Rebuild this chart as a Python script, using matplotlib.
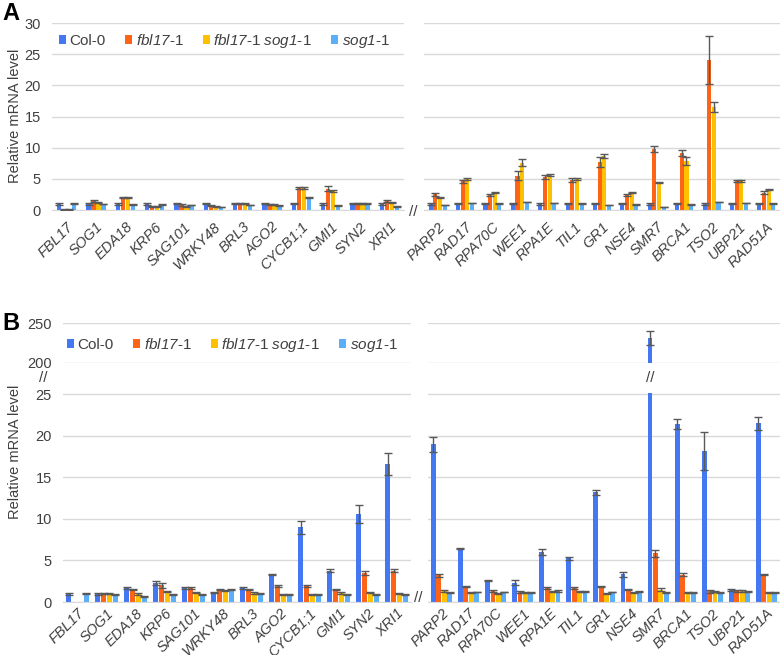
import matplotlib
matplotlib.use('Agg')
import matplotlib.pyplot as plt
import numpy as np

plt.rcParams['font.family'] = 'Liberation Sans'
plt.rcParams['mathtext.fontset'] = 'custom'
plt.rcParams['mathtext.rm'] = 'Liberation Sans'
plt.rcParams['mathtext.sf'] = 'Liberation Sans:italic'

genes_left = ['FBL17', 'SOG1', 'EDA18', 'KRP6', 'SAG101', 'WRKY48', 'BRL3', 'AGO2',
              'CYCB1;1', 'GMI1', 'SYN2', 'XRI1']
genes_right = ['PARP2', 'RAD17', 'RPA70C', 'WEE1', 'RPA1E', 'TIL1', 'GR1', 'NSE4',
               'SMR7', 'BRCA1', 'TSO2', 'UBP21', 'RAD51A']
labels = ['Col-0', r'$\mathsf{fbl17}$-1', r'$\mathsf{fbl17}$-1 $\mathsf{sog1}$-1', r'$\mathsf{sog1}$-1']
colors = ['#4477F2', '#FF6316', '#FFC000', '#5BAEF8']

# panel A (left 12 genes, then right 13 genes)
a_col0 = [1.0, 1.0, 1.0, 1.0, 1.0, 1.0, 1.0, 1.0, 1.0, 1.0, 1.0, 1.0,
          1.0, 1.0, 1.0, 1.0, 1.0, 1.0, 1.0, 1.0, 1.0, 1.0, 1.0, 1.0, 1.0]
a_fbl17 = [0.05, 1.45, 2.0, 0.6, 0.8, 0.7, 1.05, 0.9, 3.6, 3.4, 1.1, 1.45,
           2.5, 4.6, 2.4, 5.5, 5.3, 4.8, 7.7, 2.4, 9.8, 9.1, 24.1, 4.7, 2.8]
a_double = [0.05, 1.2, 2.0, 0.55, 0.6, 0.6, 1.05, 0.9, 3.6, 3.05, 1.1, 1.2,
            2.0, 5.0, 2.8, 7.6, 5.6, 5.0, 8.7, 2.8, 4.4, 7.9, 16.5, 4.7, 3.3]
a_sog1 = [1.0, 0.95, 0.9, 0.9, 0.8, 0.5, 0.8, 0.7, 2.0, 0.7, 1.05, 0.55,
          0.8, 1.1, 1.0, 1.3, 1.1, 1.0, 0.8, 0.9, 0.5, 0.9, 1.3, 1.1, 1.0]
a_col0_err = [0.15, 0.15, 0.15, 0.15, 0.1, 0.1, 0.1, 0.1, 0.1, 0.15, 0.1, 0.2,
              0.15, 0.1, 0.1, 0.1, 0.15, 0.1, 0.1, 0.1, 0.15, 0.1, 0.15, 0.1, 0.1]
a_fbl17_err = [0.05, 0.1, 0.1, 0.1, 0.1, 0.1, 0.1, 0.05, 0.15, 0.4, 0.1, 0.15,
               0.2, 0.2, 0.1, 0.7, 0.3, 0.3, 0.8, 0.1, 0.5, 0.5, 3.8, 0.15, 0.2]
a_double_err = [0.05, 0.1, 0.1, 0.1, 0.1, 0.05, 0.1, 0.05, 0.15, 0.1, 0.1, 0.1,
                0.1, 0.2, 0.1, 0.6, 0.2, 0.2, 0.3, 0.15, 0.05, 0.6, 0.8, 0.15, 0.15]
a_sog1_err = [0.05, 0.05, 0.05, 0.05, 0.05, 0.05, 0.05, 0.05, 0.1, 0.05, 0.05, 0.05,
              0.05, 0.05, 0.05, 0.05, 0.05, 0.05, 0.05, 0.05, 0.05, 0.05, 0.05, 0.05, 0.05]

# panel B
b_col0 = [1.0, 1.0, 1.7, 2.3, 1.7, 1.15, 1.7, 3.3, 9.0, 3.75, 10.6, 16.6,
          19.0, 6.4, 2.6, 2.3, 6.0, 5.25, 13.2, 3.35, 231.0, 21.4, 18.2, 1.45, 21.5]
b_fbl17 = [np.nan, 1.0, 1.5, 2.0, 1.65, 1.5, 1.5, 1.95, 1.9, 1.5, 3.5, 3.75,
           3.2, 1.85, 1.35, 1.2, 1.65, 1.7, 1.85, 1.5, 5.85, 3.3, 1.3, 1.3, 3.3]
b_double = [np.nan, 1.0, 0.95, 1.25, 1.15, 1.4, 1.1, 0.95, 0.9, 1.05, 1.15, 1.0,
            1.3, 1.15, 1.05, 1.15, 1.25, 1.25, 1.05, 1.15, 1.5, 1.1, 1.25, 1.3, 1.1]
b_sog1 = [1.0, 0.95, 0.7, 0.9, 0.9, 1.5, 1.05, 0.95, 0.9, 0.95, 0.9, 0.9,
          1.15, 1.2, 1.2, 1.15, 1.35, 1.3, 1.2, 1.25, 1.15, 1.1, 1.15, 1.3, 1.1]
b_col0_err = [0.1, 0.1, 0.1, 0.2, 0.1, 0.1, 0.1, 0.1, 0.8, 0.2, 1.1, 1.3,
              0.9, 0.05, 0.1, 0.3, 0.4, 0.2, 0.3, 0.3, 9.0, 0.6, 2.3, 0.1, 0.8]
b_fbl17_err = [np.nan, 0.05, 0.1, 0.3, 0.1, 0.1, 0.1, 0.1, 0.1, 0.1, 0.2, 0.2,
               0.2, 0.1, 0.1, 0.1, 0.1, 0.1, 0.1, 0.1, 0.4, 0.2, 0.2, 0.1, 0.05]
b_double_err = [np.nan, 0.05, 0.1, 0.1, 0.1, 0.1, 0.1, 0.05, 0.1, 0.1, 0.1, 0.05,
                0.1, 0.05, 0.05, 0.1, 0.1, 0.05, 0.05, 0.1, 0.2, 0.05, 0.1, 0.1, 0.05]
b_sog1_err = [0.05, 0.05, 0.05, 0.05, 0.05, 0.1, 0.05, 0.05, 0.05, 0.05, 0.05, 0.05,
              0.05, 0.05, 0.05, 0.05, 0.1, 0.05, 0.05, 0.05, 0.05, 0.05, 0.05, 0.05, 0.05]

W, H = 780, 655
fig = plt.figure(figsize=(W / 100, H / 100), dpi=100)
text_c = '#404040'
grid_c = '#d9d9d9'


def px_axes(x0, x1, ytop, ybot):
    return fig.add_axes([x0 / W, 1 - ybot / H, (x1 - x0) / W, (ybot - ytop) / H])


def style(ax, ylim, yticks, show_y, xlabels=None, baseline=True, xpad=3):
    ax.set_ylim(*ylim)
    ax.set_yticks(yticks)
    ax.yaxis.grid(True, color=grid_c, lw=1)
    ax.set_axisbelow(True)
    for s in ['top', 'right', 'left']:
        ax.spines[s].set_visible(False)
    ax.spines['bottom'].set_visible(baseline)
    ax.spines['bottom'].set_color(grid_c)
    ax.tick_params(length=0, labelsize=10.5, colors=text_c, pad=8)
    if not show_y:
        ax.set_yticklabels([])
    if xlabels is None:
        ax.set_xticks([])
    else:
        ax.set_xticks(np.arange(len(xlabels)))
        ax.set_xticklabels(xlabels, rotation=45, ha='right', rotation_mode='anchor',
                           fontstyle='italic', fontsize=10.5)
        ax.tick_params(axis='x', pad=xpad)


def draw(ax, n, series, errs, step, width):
    x = np.arange(n)
    ax.set_xlim(-0.5, n - 0.5)
    for i, (v, e) in enumerate(zip(series, errs)):
        xs = x + (i - 1.5) * step
        ax.bar(xs, v, width, color=colors[i], label=labels[i], zorder=2)
        ax.errorbar(xs, v, yerr=e, fmt='none', ecolor='#595959', elinewidth=1,
                    capsize=3, capthick=1, zorder=3)


def legend(ax, x, y):
    ax.legend(ncol=4, loc='center left', bbox_to_anchor=(x / W, 1 - y / H),
              bbox_transform=fig.transFigure, frameon=False, fontsize=11,
              handlelength=0.45, handleheight=0.45, handletextpad=0.25,
              columnspacing=1.25, borderaxespad=0, borderpad=0, labelcolor=text_c)


# ---- panel A
a_series = [a_col0, a_fbl17, a_double, a_sog1]
a_errs = [a_col0_err, a_fbl17_err, a_double_err, a_sog1_err]
axA1 = px_axes(52, 404, 22.5, 210)
axA2 = px_axes(424, 780, 22.5, 210)
draw(axA1, 12, [s[:12] for s in a_series], [e[:12] for e in a_errs], 0.17, 0.15)
draw(axA2, 13, [s[12:] for s in a_series], [e[12:] for e in a_errs], 0.17, 0.15)
style(axA1, (0, 30.1), range(0, 31, 5), True, genes_left, xpad=7)
style(axA2, (0, 30.1), range(0, 31, 5), False, genes_right, xpad=7)
legend(axA1, 59, 41)
fig.text(413 / W, 1 - 212 / H, '//', fontsize=11, color=text_c, ha='center', va='center')

# ---- panel B
b_series = [b_col0, b_fbl17, b_double, b_sog1]
b_errs = [b_col0_err, b_fbl17_err, b_double_err, b_sog1_err]
axB1 = px_axes(63, 411, 393, 602)
axB2 = px_axes(428, 780, 393, 602)
axB1t = px_axes(63, 411, 323, 363)
axB2t = px_axes(428, 780, 323, 363)
for ax, sl, n in [(axB1, slice(0, 12), 12), (axB2, slice(12, 25), 13),
                  (axB1t, slice(0, 12), 12), (axB2t, slice(12, 25), 13)]:
    draw(ax, n, [s[sl] for s in b_series], [e[sl] for e in b_errs], 0.2, 0.18)
style(axB1, (0, 25.15), range(0, 26, 5), True, genes_left, xpad=3)
style(axB2, (0, 25.15), range(0, 26, 5), False, genes_right, xpad=3)
style(axB1t, (199.5, 250.5), [200, 250], True, None, baseline=False)
style(axB2t, (199.5, 250.5), [200, 250], False, None, baseline=False)
legend(axB1t, 67, 345)
fig.text(418 / W, 1 - 598 / H, '//', fontsize=11, color=text_c, ha='center', va='center')
fig.text(43 / W, 1 - 378 / H, '//', fontsize=11, color=text_c, ha='center', va='center')
smr7 = genes_right.index('SMR7')
axB2.annotate('//', xy=(smr7 - 1.5 * 0.2, 1 - 378 / H), xycoords=('data', 'figure fraction'),
              fontsize=11, color=text_c, ha='center', va='center')

# labels
fig.text(15 / W, 1 - 116 / H, 'Relative mRNA level', rotation=90, fontsize=10.5,
         color=text_c, ha='center', va='center')
fig.text(15 / W, 1 - 452 / H, 'Relative mRNA level', rotation=90, fontsize=10.5,
         color=text_c, ha='center', va='center')
fig.text(2 / W, 1 - 2 / H, 'A', fontsize=17, fontweight='bold', ha='left', va='top')
fig.text(2 / W, 1 - 312 / H, 'B', fontsize=17, fontweight='bold', ha='left', va='top')

fig.savefig('out.png', dpi=100)
